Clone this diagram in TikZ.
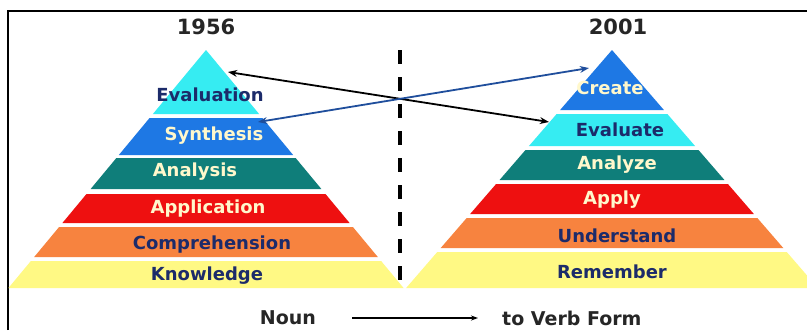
\documentclass[tikz,border=0pt]{standalone}
\usepackage{fontspec}
\setmainfont{DejaVu Sans}
\usepackage{tikz}
\usetikzlibrary{arrows.meta}
\definecolor{cyanx}{HTML}{36ECF2}
\definecolor{bluex}{HTML}{1E78E4}
\definecolor{tealx}{HTML}{0F7E7A}
\definecolor{redx}{HTML}{EE1010}
\definecolor{orangex}{HTML}{F7833F}
\definecolor{yellowx}{HTML}{FFF984}
\definecolor{navyx}{HTML}{1C2B6A}
\definecolor{creamx}{HTML}{FFF8CC}
\definecolor{linkblue}{HTML}{1F4E9C}
\tikzset{
  ar/.style={{Stealth[length=3.2mm,width=2.4mm]}-{Stealth[length=3.2mm,width=2.4mm]},line width=1.8pt},
  lbl/.style={font=\bfseries\fontsize{18}{20}\selectfont,inner sep=0pt},
  title/.style={font=\bfseries\fontsize{19}{21}\selectfont,inner sep=0pt,text=black!85}
}

\begin{document}
\begin{tikzpicture}[x=1pt,y=-1pt]
\clip (0,0) rectangle (807,330);
\fill[white] (0,0) rectangle (807,330);
\draw[line width=2.2pt] (8,330) -- (8,11) -- (807,11);
% 1956 pyramid
\def\ax{206}\def\ay{50}\def\s{0.83}
\foreach \t/\b/\c/\n/\l/\tc/\lx/\ly in {50/114/cyanx/evaluation/Evaluation/navyx/210/95,
  118/155/bluex/synthesis/Synthesis/creamx/214/136,
  158/189/tealx/analysis/Analysis/creamx/195/172,
  194/223/redx/application/Application/creamx/208/209,
  227/257/orangex/comprehension/Comprehension/navyx/212/245,
  261/288/yellowx/knowledge/Knowledge/navyx/207/276}{
  \fill[\c] ({\ax-\s*(\t-\ay)},\t) -- ({\ax+\s*(\t-\ay)},\t) -- ({\ax+\s*(\b-\ay)},\b) -- ({\ax-\s*(\b-\ay)},\b) -- cycle;
  \node[lbl,text=\tc] (\n) at (\lx,\ly) {\l};
}
\node[title,font=\bfseries\fontsize{21}{23}\selectfont] (old) at (206,27) {1956};
% 2001 pyramid
\def\ax{612}\def\s{0.865}
\foreach \t/\b/\c/\n/\l/\tc/\lx/\ly in {50/110/bluex/create/Create/creamx/610/88,
  114/146/cyanx/evaluate/Evaluate/navyx/620/130,
  150/180/tealx/analyze/Analyze/creamx/617/165,
  184/214/redx/apply/Apply/creamx/612/200,
  218/248/orangex/understand/Understand/navyx/617/236,
  252/288/yellowx/remember/Remember/navyx/612/272}{
  \fill[\c] ({\ax-\s*(\t-\ay)},\t) -- ({\ax+\s*(\t-\ay)},\t) -- ({\ax+\s*(\b-\ay)},\b) -- ({\ax-\s*(\b-\ay)},\b) -- cycle;
  \node[lbl,text=\tc] (\n) at (\lx,\ly) {\l};
}
\node[title,font=\bfseries\fontsize{21}{23}\selectfont] (new) at (618,27) {2001};
% divider
\draw[line width=4pt,dash pattern=on 14pt off 13pt] (400,50) -- (400,288);
% level swaps
\coordinate (evalL) at (228,72);
\coordinate (evalR) at (549,122);
\coordinate (synL) at (258,122);
\coordinate (creR) at (589,68);
\draw[ar] (evalL) -- (evalR);
\draw[ar,linkblue] (synL) -- (creR);
% bottom
\node[title] (noun) at (288,318) {Noun};
\node[title,anchor=west] (verb) at (502,318) {to Verb Form};
\draw[-{Stealth[length=2.5mm,width=1.8mm]},line width=1.2pt] (352,318) -- (verb.west -| 478,0);
\end{tikzpicture}
\end{document}
